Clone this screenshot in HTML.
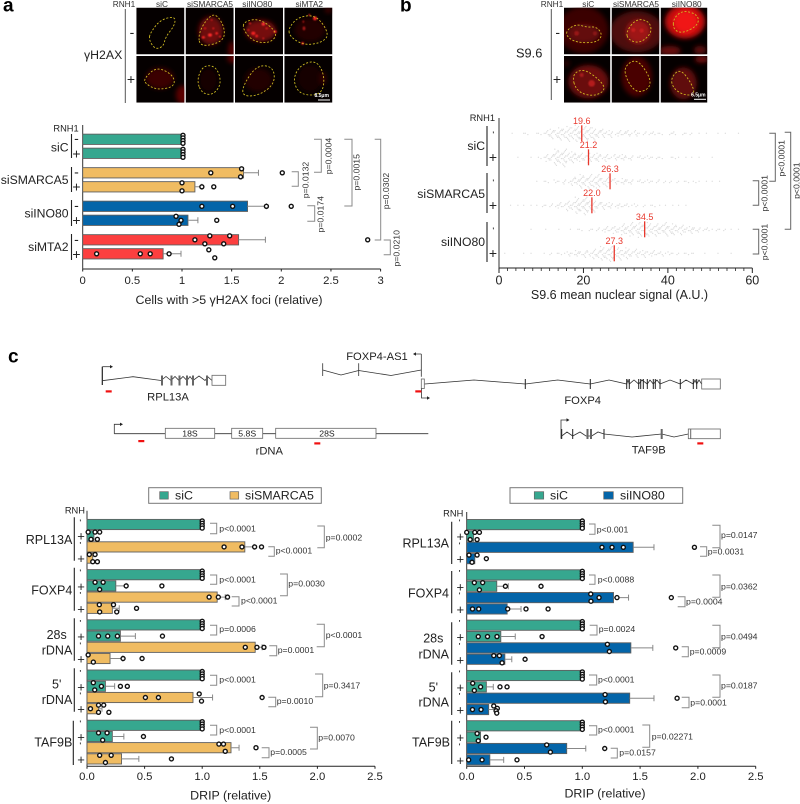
<!DOCTYPE html>
<html lang="en">
<head>
<meta charset="utf-8">
<title>Figure: gamma-H2AX, S9.6 and DRIP</title>
<style>
html,body{margin:0;padding:0;background:#fff}
svg{display:block}
text{font-family:"Liberation Sans",sans-serif;fill:#222;dominant-baseline:central}
.hd{font-size:8.3px;text-anchor:middle;fill:#333}
.pl{font-size:19px;font-weight:bold;fill:#000}
.rl{font-size:12.2px;text-anchor:end}
.rc{font-size:12.5px;text-anchor:middle}
.sg{font-size:14px;text-anchor:middle}
.tk{font-size:7px;font-weight:bold;text-anchor:middle}
.rn{font-size:9.3px;text-anchor:end}
.p{font-size:8.7px;fill:#333}
.pr{font-size:8.7px;fill:#333;text-anchor:middle}
.br{fill:none;stroke:#8a8a8a;stroke-width:1}
.sep{stroke:#222;stroke-width:1.1}
.ax{font-size:12.4px;text-anchor:middle}
.gn{font-size:11.2px;text-anchor:middle}
.ex{font-size:8.7px;text-anchor:middle}
.gl{fill:none;stroke:#333;stroke-width:.8}
.gb{fill:#fff;stroke:#666;stroke-width:.8}
.rm{fill:#f01010}
.lg{font-size:12.4px}
.sb{font-size:5px;font-weight:bold;fill:#fff;text-anchor:middle}
</style>
</head>
<body>
<svg id="fig" xmlns="http://www.w3.org/2000/svg" width="800" height="804" viewBox="0 0 800 804">
<defs>
<filter id="soft" x="-60%" y="-60%" width="220%" height="220%"><feGaussianBlur stdDeviation="7"/></filter>
<filter id="spot" x="-100%" y="-100%" width="300%" height="300%"><feGaussianBlur stdDeviation="2.2"/></filter>
</defs>

<text class="pl" x="3" y="6">a</text>
<text class="pl" x="400" y="6">b</text>
<text class="pl" x="8" y="357">c</text>

<g id="micrographs"></g>

<g>
<text class="hd" x="124" y="4">RNH1</text>
<text class="hd" x="162" y="4">siC</text>
<text class="hd" x="210" y="4">siSMARCA5</text>
<text class="hd" x="257.3" y="4">siINO80</text>
<text class="hd" x="309.3" y="4">siMTA2</text>
<text x="84" y="55" font-size="12.3">γH2AX</text>
<line x1="125.3" y1="9" x2="125.3" y2="103" stroke="#555"/>
<text class="sg" x="132" y="32">-</text>
<text class="sg" x="131" y="79">+</text>
</g>
<g>
<text class="hd" x="552" y="4">RNH1</text>
<text class="hd" x="588.3" y="4">siC</text>
<text class="hd" x="636" y="4">siSMARCA5</text>
<text class="hd" x="686.7" y="4">siINO80</text>
<text x="516" y="53" font-size="12.8">S9.6</text>
<line x1="551.3" y1="9" x2="551.3" y2="100" stroke="#555"/>
<text class="sg" x="557.7" y="32">-</text>
<text class="sg" x="557" y="79">+</text>
</g>

<!-- Panel a labels -->
<g>
<text class="rn" x="78.7" y="128.5">RNH1</text>
<text class="rl" x="68.5" y="147.7">siC</text>
<text class="rl" x="68.5" y="180">siSMARCA5</text>
<text class="rl" x="68.5" y="213.5">siINO80</text>
<text class="rl" x="68.5" y="247">siMTA2</text>
<path class="sep" d="M71.5 134V158M71.5 167V192M71.5 200V226M71.5 234V260"/>
<text class="sg" x="76.5" y="138">-</text>
<text class="sg" x="76.5" y="153.3">+</text>
<text class="sg" x="76.5" y="171.3">-</text>
<text class="sg" x="76.5" y="186.3">+</text>
<text class="sg" x="76.5" y="205">-</text>
<text class="sg" x="76.5" y="220">+</text>
<text class="sg" x="76.5" y="239">-</text>
<text class="sg" x="76.5" y="254">+</text>
<text class="ax" x="229" y="300">Cells with &gt;5 γH2AX foci (relative)</text>
</g>
<g id="chartA"></g>
<g>
<path class="br" d="M314 139.3H321.3V172.3H314"/><text class="pr" transform="translate(328.3,156) rotate(-90)">p=0.0004</text>
<path class="br" d="M344.3 139.3H352V206H344.3"/><text class="pr" transform="translate(356.7,172.3) rotate(-90)">p=0.0015</text>
<path class="br" d="M374.7 139.3H380.7V240H374.7"/><text class="pr" transform="translate(386,191) rotate(-90)">p=0.0302</text>
<path class="br" d="M291.7 171.7H298.3V186.3H291.7"/><text class="pr" transform="translate(305.7,180) rotate(-90)">p=0.0132</text>
<path class="br" d="M307.3 205.7H314.7V221.3H307.3"/><text class="pr" transform="translate(320.7,214.3) rotate(-90)">p=0.0174</text>
<path class="br" d="M383.7 240H390.3V254.7H383.7"/><text class="pr" transform="translate(396.7,248.3) rotate(-90)">p=0.0210</text>
</g>

<!-- Panel b labels -->
<g>
<text class="rn" x="495" y="118">RNH1</text>
<text class="rl" x="485" y="146">siC</text>
<text class="rl" x="485" y="194">siSMARCA5</text>
<text class="rl" x="485" y="242">siINO80</text>
<path class="sep" d="M487 126V166M487 173V213M487 222V262"/>
<text class="tk" x="493.3" y="135">'</text>
<text class="sg" x="493" y="157">+</text>
<text class="tk" x="493.3" y="183">'</text>
<text class="sg" x="493" y="205">+</text>
<text class="tk" x="493.3" y="231">'</text>
<text class="sg" x="493" y="253">+</text>
<text class="ax" x="619.5" y="295" style="font-size:12.5px">S9.6 mean nuclear signal (A.U.)</text>
</g>
<g id="chartB"></g>
<g>
<path class="br" style="stroke:#666" d="M769.3 133.3H775.3V181.3H769.3"/><text class="pr" transform="translate(781.3,158.3) rotate(-90)">p&lt;0.0001</text>
<path class="br" style="stroke:#666" d="M784.7 132.3H790.7V229.3H784.7"/><text class="pr" transform="translate(796.5,180.7) rotate(-90)">p&lt;0.0001</text>
<path class="br" style="stroke:#666" d="M752.7 180.7H758.7V205.3H752.7"/><text class="pr" transform="translate(764.7,193.3) rotate(-90)">p&lt;0.0001</text>
<path class="br" style="stroke:#666" d="M752.7 229.3H758.7V254H752.7"/><text class="pr" transform="translate(764.7,242) rotate(-90)">p&lt;0.0001</text>
</g>

<!-- Gene models -->
<g>
<path class="gl" d="M102.3 366.7H110"/><path d="M110 365L113 366.7L110 368.4Z" fill="#222"/>
<path d="M102.3 366.7V385" fill="none" stroke="#222" stroke-width="1.2"/>
<polyline class="gl" points="102.3,380.7 133,376.7 161,380.5 166,376.5 171,380.5 175,376.5 179,380.5 183,376.5 187,380.5 190,376.5 193,380.5 199,376 205,380.5 208,377 212,380.5"/>
<path d="M162 375.5V385.5M171.5 375.5V385.5M179.5 375.5V385.5M187 375.5V385.5M193 375.5V385.5M207 375.5V385.5" stroke="#666" stroke-width="2" fill="none"/>
<rect class="gb" x="212" y="375.3" width="13.7" height="10"/>
<rect class="rm" x="105.7" y="390.3" width="6" height="2.2"/>
<text class="gn" x="168" y="397.7">RPL13A</text>
</g>
<g>
<text class="gn" x="377" y="357">FOXP4-AS1</text>
<path class="gl" d="M322.7 363.3V376M358.7 363.3V376M421.3 354V376.7M421.3 354H415"/>
<path d="M416 352.3L413 354L416 355.7Z" fill="#222"/>
<polyline class="gl" points="322.7,370 341,375 358.7,370.5 391,375.5 421.3,370"/>
</g>
<g>
<rect class="gb" x="421.3" y="379" width="3" height="9.5"/>
<path class="gl" d="M421.5 388.5V398H428"/><path d="M427 396.3L430 398L427 399.7Z" fill="#222"/>
<rect class="rm" x="415.3" y="390.3" width="6" height="2.2"/>
<polyline class="gl" points="424.7,384 474,380 525.3,384 557.7,380 590.3,384 609,380 626.7,384 628,380 629.3,384 634,380 638.7,384 642,380 647.3,384 650,380 653.3,384 657,380 660,384 670,380 680.3,384 686,380 693.3,384 695,380 696.7,384 699,380 701.7,384"/>
<path d="M525.3 379V389M590.3 379V389M626.7 379V389M629.3 379V389M638.7 379V389M640.7 379V389M643.3 379V389M647.3 379V389M653.3 379V389M655.3 379V389M660 379V389M680.3 379V389M693.3 379V389M696.7 379V389" stroke="#222" stroke-width="1" fill="none"/>
<rect class="gb" x="701.7" y="379" width="18.6" height="10"/>
<text class="gn" x="582.7" y="401">FOXP4</text>
</g>
<g>
<path class="gl" d="M114.3 433.7V424.3H121M114.3 433.7H428.3"/><path d="M120 422.6L123 424.3L120 426Z" fill="#222"/>
<rect class="gb" x="165.3" y="428.3" width="49.4" height="10"/><text class="ex" x="190" y="433.5">18S</text>
<rect class="gb" x="231.7" y="428.3" width="31" height="10"/><text class="ex" x="247.2" y="433.5">5.8S</text>
<rect class="gb" x="275.7" y="428.3" width="100.3" height="10"/><text class="ex" x="327" y="433.5">28S</text>
<rect class="rm" x="138.3" y="440" width="6" height="2.2"/>
<rect class="rm" x="314.3" y="442.3" width="6" height="2.2"/>
<text class="gn" x="269.3" y="451.7">rDNA</text>
</g>
<g>
<path class="gl" d="M561 438.7V420H567.5"/><path d="M566.5 418.3L569.5 420L566.5 421.7Z" fill="#222"/>
<polyline class="gl" points="561.7,436 567,432 572.7,436 580,432 586,436 591.7,436 598,432 604,434 632,437 661.7,434 674,437 688.3,434"/>
<path d="M561.7 429V439M572.7 429V439M604 429V439" stroke="#222" fill="none"/>
<path d="M587.5 429V439M591 429V439M661.7 429V439" stroke="#666" stroke-width="2" fill="none"/>
<rect class="gb" x="688.3" y="429" width="32" height="9.7"/>
<path d="M690.7 429V438.7" stroke="#666"/>
<rect class="rm" x="697.3" y="442.3" width="6" height="2.2"/>
<text class="gn" x="648.7" y="450.7">TAF9B</text>
</g>

<!-- Legends -->
<g>
<rect x="148.7" y="487.7" width="172.6" height="15.6" fill="#fff" stroke="#777"/>
<rect x="159.7" y="491.7" width="8.6" height="7.4" fill="#36A78F" stroke="#666" stroke-width=".7"/>
<text class="lg" x="175" y="495.7">siC</text>
<rect x="230" y="491.7" width="8.7" height="7.4" fill="#F0BC62" stroke="#666" stroke-width=".7"/>
<text class="lg" x="245" y="495.7">siSMARCA5</text>
</g>
<g>
<rect x="510" y="487.7" width="172.7" height="15.6" fill="#fff" stroke="#777"/>
<rect x="534.3" y="491.7" width="9.4" height="7.4" fill="#36A78F" stroke="#666" stroke-width=".7"/>
<text class="lg" x="550" y="495.7">siC</text>
<rect x="603.7" y="491.7" width="9.6" height="7.4" fill="#0465A9" stroke="#666" stroke-width=".7"/>
<text class="lg" x="620" y="495.7">siINO80</text>
</g>

<!-- Panel c left labels -->
<g>
<text class="rn" x="85" y="510.3">RNH</text>
<text class="rl" x="72.3" y="540" style="font-size:12.5px">RPL13A</text>
<text class="rl" x="72.3" y="590.7" style="font-size:12.5px">FOXP4</text>
<text class="rc" x="56.7" y="635">28s</text>
<text class="rl" x="72.3" y="650.7" style="font-size:12.5px">rDNA</text>
<text class="rc" x="56.7" y="684.3">5'</text>
<text class="rl" x="72.3" y="700" style="font-size:12.5px">rDNA</text>
<text class="rl" x="72.3" y="742.7" style="font-size:12.5px">TAF9B</text>
<path class="sep" d="M74.3 517.3V560.7M74.3 567.7V610.7M74.3 618.3V660.7M74.3 668.3V711.7M73.3 720.7V765"/>
<g id="signsLeft"></g>
<text class="ax" x="230.7" y="795.7">DRIP (relative)</text>
</g>
<g id="chartL"></g>
<g>
<path class="br" d="M210 523.3H216.7V533.7H210"/><text class="p" x="219.3" y="528.3">p&lt;0.0001</text>
<path class="br" d="M268.3 546.7H274.3V556.3H268.3"/><text class="p" x="275.7" y="550.7">p&lt;0.0001</text>
<path class="br" d="M317.3 526H324.3V547.7H317.3"/><text class="p" x="325.7" y="537.3">p=0.0002</text>
<path class="br" d="M210 575H216.7V584.3H210"/><text class="p" x="219.3" y="579.3">p&lt;0.0001</text>
<path class="br" d="M231.7 596.7H239V606H231.7"/><text class="p" x="241" y="600.7">p&lt;0.0001</text>
<path class="br" d="M280 574H287.3V595.7H280"/><text class="p" x="288.3" y="583.3">p=0.0030</text>
<path class="br" d="M210 625.3H216.7V635H210"/><text class="p" x="219.3" y="629">p=0.0006</text>
<path class="br" d="M269.3 645.7H276.7V655.7H269.3"/><text class="p" x="277.7" y="650">p=0.0001</text>
<path class="br" d="M316.7 624.3H324.3V646.7H316.7"/><text class="p" x="325.7" y="635">p&lt;0.0001</text>
<path class="br" d="M210 675.3H216.7V685.3H210"/><text class="p" x="219.3" y="679.3">p&lt;0.0001</text>
<path class="br" d="M268.3 697.3H275.7V706.7H268.3"/><text class="p" x="276.7" y="701">p=0.0010</text>
<path class="br" d="M315 674H322.7V696.7H315"/><text class="p" x="323.7" y="685.3">p=0.3417</text>
<path class="br" d="M210 725.3H216.7V735H210"/><text class="p" x="219.3" y="730">p&lt;0.0001</text>
<path class="br" d="M261.7 747.7H269V757.7H261.7"/><text class="p" x="270.3" y="752">p=0.0005</text>
<path class="br" d="M310 727.3H317.3V749H310"/><text class="p" x="318.3" y="737.7">p=0.0070</text>
</g>

<!-- Panel c right labels -->
<g>
<text class="rn" x="463.3" y="513.3">RNH</text>
<text class="rl" x="449" y="543.3" style="font-size:12.5px">RPL13A</text>
<text class="rl" x="449" y="593.3" style="font-size:12.5px">FOXP4</text>
<text class="rc" x="433.3" y="638.3">28s</text>
<text class="rl" x="449" y="654.3" style="font-size:12.5px">rDNA</text>
<text class="rc" x="433.3" y="687.3">5'</text>
<text class="rl" x="449" y="702.3" style="font-size:12.5px">rDNA</text>
<text class="rl" x="450" y="742.3" style="font-size:12.5px">TAF9B</text>
<path class="sep" d="M451.7 521.7V564M451.7 571V613.3M451.7 622.3V664.7M451.7 672.3V715M451.7 720.7V764"/>
<g id="signsRight"></g>
<text class="ax" x="605" y="793.3">DRIP (relative)</text>
</g>
<g id="chartR"></g>
<g>
<path class="br" d="M589 524H595V534.3H589"/><text class="p" x="596.7" y="529.3">p&lt;0.001</text>
<path class="br" d="M700 546.7H706.7V556.3H700"/><text class="p" x="707.7" y="551.7">p=0.0031</text>
<path class="br" d="M712.3 525.3H720V547.7H712.3"/><text class="p" x="721" y="535">p=0.0147</text>
<path class="br" d="M589 575H595V584.3H589"/><text class="p" x="597.7" y="579.3">p&lt;0.0088</text>
<path class="br" d="M677.7 596.7H685V606.7H677.7"/><text class="p" x="686" y="601.7">p=0.0004</text>
<path class="br" d="M712.3 575H720V597.3H712.3"/><text class="p" x="721" y="586.3">p=0.0362</text>
<path class="br" d="M589.7 625.3H597V635H589.7"/><text class="p" x="598.7" y="629">p=0.0024</text>
<path class="br" d="M681.7 646.7H688.3V656.7H681.7"/><text class="p" x="689.7" y="651.7">p=0.0009</text>
<path class="br" d="M712.3 625.3H720V647.7H712.3"/><text class="p" x="721" y="636.7">p=0.0494</text>
<path class="br" d="M589 675H596.7V685H589"/><text class="p" x="598" y="679.3">p&lt;0.0001</text>
<path class="br" d="M681.7 697.3H689V707.7H681.7"/><text class="p" x="690.3" y="702.3">p=0.0001</text>
<path class="br" d="M712.3 675H720V697.3H712.3"/><text class="p" x="721" y="685.7">p=0.0187</text>
<path class="br" d="M589 725.7H596.7V735H589"/><text class="p" x="598" y="729.3">p&lt;0.0001</text>
<path class="br" d="M610.7 748.3H617.3V758H610.7"/><text class="p" x="619.3" y="752.7">p=0.0157</text>
<path class="br" d="M642.3 725H649.7V747.3H642.3"/><text class="p" x="651.7" y="736.7">p=0.02271</text>
</g>
</svg>

<script>
/* ---------- Panel a data ---------- */
const aTickValues = [0, 0.5, 1, 1.5, 2, 2.5, 3];
const aTickLabels = ['0', '0.5', '1', '1.5', '2', '2.5', '3'];
const aRowNames = ['siC-minus', 'siC-plus', 'siSMARCA5-minus', 'siSMARCA5-plus', 'siINO80-minus', 'siINO80-plus', 'siMTA2-minus', 'siMTA2-plus'];
const aBarValues = [1, 1, 1.62, 1.13, 1.66, 1.06, 1.57, 0.81];
const aErrorTops = [null, null, 1.77, 1.2, 1.85, 1.16, 1.84, 0.99];
const aPoints = [
  [1.01, 1.01, 1.01, 1.01],
  [1.01, 1.01, 1.01, 1.01],
  [1.6, 1.29, 1.59, 2.01],
  [1.0, 1.0, 1.2, 1.32],
  [1.2, 1.51, 1.85, 2.1],
  [0.94, 0.99, 0.97, 1.35],
  [1.28, 1.48, 1.13, 1.23, 1.42, 2.87],
  [0.14, 0.58, 0.68, 0.87, 1.27, 1.33]
];

/* ---------- Panel b data ---------- */
const bTickValues = [0, 20, 40, 60];
const bTickLabels = ['0', '20', '40', '60'];
const bMinorTicks = [2, 4, 6, 8, 10, 12, 14, 16, 18, 22, 24, 26, 28, 30, 32, 34, 36, 38, 42, 44, 46, 48, 50, 52, 54, 56, 58];
const bRowNames = ['siC-minus', 'siC-plus', 'siSMARCA5-minus', 'siSMARCA5-plus', 'siINO80-minus', 'siINO80-plus'];
const bMeans = [19.6, 21.2, 26.3, 22.0, 34.5, 27.3];
const bMeanLabels = ['19.6', '21.2', '26.3', '22.0', '34.5', '27.3'];
/* dots per one-unit signal bin */
const bSwarmCounts = [
  [0,0,0,1,0,1,2,0,1,2,1,5,8,6,10,7,12,9,13,8,11,9,10,6,7,3,6,2,5,3,5,2,5,1,3,2,3,1,2,0,2,3,0,2,1,2,0,1,0,1,0,1,0,1,0,0,1,0,0,0],
  [0,0,0,0,1,0,0,1,0,2,1,6,5,13,9,14,7,9,5,7,4,8,5,7,3,6,2,5,3,5,2,4,1,3,2,3,1,2,2,0,1,2,1,0,1,1,0,1,0,0,1,0,0,0,0,0,0,0,0,0],
  [0,0,0,0,0,0,0,0,1,0,1,2,0,3,1,4,2,7,5,11,7,12,8,11,5,8,3,5,2,5,3,4,1,3,2,3,1,3,0,2,2,0,2,1,2,0,2,1,0,1,1,0,1,0,0,0,0,0,0,0],
  [0,0,1,0,1,1,0,1,1,0,2,1,3,2,5,3,8,6,13,9,14,8,10,5,6,3,5,2,4,2,3,1,3,0,2,1,2,0,1,1,0,1,1,0,1,0,0,0,0,0,0,0,0,0,0,0,0,0,0,0],
  [0,0,0,0,0,0,0,1,0,0,0,1,0,0,1,0,1,0,1,2,0,2,1,3,2,5,3,6,4,9,6,11,7,12,8,11,6,10,7,11,6,9,5,8,4,6,3,4,2,3,1,2,1,2,1,0,1,0,0,0],
  [0,1,0,0,0,1,0,1,0,0,1,0,2,1,2,1,4,2,5,3,6,4,8,6,11,8,12,6,10,5,9,4,7,3,6,3,5,2,4,1,3,1,2,1,2,1,1,0,1,0,0,1,0,0,1,0,0,0,0,0]
];

/* ---------- Panel c data ---------- */
const cTickValues = [0, 0.5, 1, 1.5, 2, 2.5];
const cTickLabels = ['0.0', '0.5', '1.0', '1.5', '2.0', '2.5'];
const cGroups = ['RPL13A', 'FOXP4', '28s-rDNA', '5prime-rDNA', 'TAF9B'];
const cConditions = ['siC-minus', 'siC-plus', 'knockdown-minus', 'knockdown-plus'];
const leftBarValues = [1,0.06,1.37,0.05, 1,0.25,1.13,0.22, 1,0.29,1.46,0.2, 1,0.16,0.92,0.1, 1,0.22,1.25,0.3];
const leftErrorTops = [null,null,1.45,null, null,0.34,1.2,0.28, null,0.42,1.52,0.31, null,0.24,1.09,0.13, null,0.32,1.32,0.45];
const leftPoints = [
  [1,1,1,1],[0.01,0.035,0.07,0.09,0.11],[1.19,1.345,1.455,1.515],[0.02,0.05,0.07,0.09],
  [1,1,1,1],[0.07,0.11,0.14,0.34,0.65],[1.06,1.14,1.22],[0.107,0.11,0.23,0.258,0.43],
  [1,1,1,1],[0.1,0.18,0.264,0.655],[1.374,1.475,1.536],[0.01,0.055,0.313,0.478],
  [1,1,1,1],[0.055,0.067,0.125,0.29,0.35],[0.507,0.62,0.974,0.994,1.52],[0.03,0.1,0.1,0.145,0.19],
  [1,1,1,1],[0.1,0.136,0.174,0.49],[1.145,1.2,1.185,1.467],[0.11,0.16,0.21,0.733]
];
const rightBarValues = [1,0.06,1.44,0.07, 1,0.26,1.27,0.35, 1,0.295,1.42,0.33, 1,0.17,1.41,0.19, 1,0.12,0.865,0.2];
const rightErrorTops = [null,null,1.62,null, null,0.36,1.4,0.47, null,0.42,1.61,0.39, null,0.23,1.62,0.26, null,null,1.03,0.32];
const rightPoints = [
  [1,1,1,1],[0,0.03,0.07,0.09,0.11],[1.17,1.257,1.355,1.97],[0.02,0.046,0.09,0.17],
  [1,1,1,1],[0.066,0.11,0.138,0.335,0.643],[1.073,1.075,1.145,1.3,1.77],[0.05,0.104,0.355,0.513,0.704],
  [1,1,1,1],[0.1,0.18,0.262,0.652],[1.217,1.234,1.808],[0.234,0.306,0.283,0.505],
  [1,1,1,1],[0.052,0.066,0.12,0.288,0.349],[1.197,1.2,1.82],[0.05,0.124,0.234,0.265,0.254,0.26],
  [1,1,1,1],[0.09,0.1,0.167],[0.692,0.724,1.194],[0.017,0.133,0.435]
];

/* ---------- Helpers ---------- */
const NS = 'http://www.w3.org/2000/svg';
function mk(tag, attrs, parent) {
  const e = document.createElementNS(NS, tag);
  for (const k in attrs) e.setAttribute(k, attrs[k]);
  parent.appendChild(e);
  return e;
}
function dotOffsets(vals, px, thr, s) {
  const order = vals.map(function (v, i) { return i; }).sort(function (a, b) { return vals[a] - vals[b]; });
  const out = vals.map(function () { return 0; });
  let group = [];
  function flush() {
    const n = group.length;
    if (n > 1) {
      const g = group.slice().sort(function (a, b) { return a - b; });
      const gv = g.map(function (i) { return vals[i]; });
      const range = px(Math.max.apply(null, gv)) - px(Math.min.apply(null, gv));
      g.forEach(function (idx, i) {
        if (range < thr) out[idx] = -s + i * (2 * s / (n - 1));
        else out[idx] = i % 2 ? s : -s;
      });
    }
    group = [];
  }
  order.forEach(function (idx, pos) {
    if (pos && px(vals[idx]) - px(vals[order[pos - 1]]) >= thr) flush();
    group.push(idx);
  });
  flush();
  return out;
}
function drawAxis(g, x, tickVals, tickLabels, axisY, topY, labelY, tickLen, fontSize) {
  const h = mk('line', {x1: x(tickVals[0]), x2: x(tickVals[tickVals.length - 1]), y1: axisY, y2: axisY, stroke: '#222', 'stroke-width': 1}, g);
  
  
  const v = mk('line', {x1: x(tickVals[0]), x2: x(tickVals[0]), y1: topY, y2: axisY, stroke: '#333', 'stroke-width': 1}, g);
  
  
  tickVals.forEach(function (t, i) {
    const tk = mk('line', {x1: x(t), x2: x(t), y1: axisY, y2: axisY + tickLen, stroke: '#222', 'stroke-width': 1}, g);
    
    
    const lb = mk('text', {x: x(t), y: labelY, 'text-anchor': 'middle', 'font-size': fontSize}, g);
    lb.textContent = tickLabels[i];
    
    
  });
}
function drawBars(g, o) {
  o.values.forEach(function (val, i) {
    const yc = o.y(i), name = o.names(i);
    const bar = mk('rect', {x: o.x(0), y: yc - o.bh / 2, width: o.x(val) - o.x(0), height: o.bh, fill: o.color(i), stroke: '#5f5f5f', 'stroke-width': 0.9}, g);
    
    
    if (o.errors[i] !== null) {
      const w = mk('path', {d: 'M' + o.x(val) + ' ' + yc + 'H' + o.x(o.errors[i]) + 'M' + o.x(o.errors[i]) + ' ' + (yc - 3) + 'V' + (yc + 3), fill: 'none', stroke: '#888', 'stroke-width': 1}, g);
      
      
    }
  });
  o.values.forEach(function (val, i) {
    const yc = o.y(i), name = o.names(i);
    const offs = dotOffsets(o.points[i], o.x, o.thr, o.s);
    o.points[i].forEach(function (p, k) {
      const c = mk('circle', {cx: o.x(p), cy: yc + offs[k], r: 2, fill: '#fff', stroke: '#111', 'stroke-width': 1.4}, g);
      
      
    });
  });
}

/* ---------- Panel a ---------- */
const xA = function (v) { return 82.7 + v * 99.3; };
const yA = function (i) { return 139.3 + Math.floor(i / 2) * 33.5 + (i % 2) * 14; };
const aColors = ['#36A78F', '#F0BC62', '#0465A9', '#FC3F3F'];
const chartA = document.getElementById('chartA');
drawAxis(chartA, xA, aTickValues, aTickLabels, 269, 125, 281, 2.5, '11.3');
drawBars(chartA, {values: aBarValues, errors: aErrorTops, points: aPoints, x: xA, y: yA, bh: 10.3, thr: 7.5, s: 4,
  color: function (i) { return aColors[Math.floor(i / 2)]; },
  names: function (i) { return aRowNames[i]; }});

/* ---------- Panel b ---------- */
const xB = function (v) { return 499 + v * 4.222; };
const yB = function (i) { return 133.3 + i * 24; };
const chartB = document.getElementById('chartB');
drawAxis(chartB, xB, bTickValues, bTickLabels, 268, 118, 280.5, 5, '12.5');
bMinorTicks.forEach(function (t) {
  const m = mk('line', {x1: xB(t), x2: xB(t), y1: 268, y2: 271, stroke: '#222', 'stroke-width': 0.8}, chartB);
  
  
});
bSwarmCounts.forEach(function (counts, r) {
  const rowG = mk('g', {fill: '#dcdcdc'}, chartB);
  
  
  counts.forEach(function (n, bin) {
    for (let k = 0; k < n; k++) {
      const lane = (k % 2 ? 1 : -1) * Math.ceil(k / 2);
      const d = mk('circle', {cx: xB(bin + ((k * 0.618 + bin * 0.37) % 1)), cy: yB(r) + lane * 1.35, r: 0.65}, rowG);
      
      
    }
  });
});
bMeans.forEach(function (m, r) {
  const ln = mk('line', {x1: xB(m), x2: xB(m), y1: yB(r) - 8, y2: yB(r) + 8, stroke: '#e8382d', 'stroke-width': 1.3}, chartB);
  
  
  const t = mk('text', {x: xB(m), y: yB(r) - 12.5, 'text-anchor': 'middle', 'font-size': '9', style: 'fill:#e8382d'}, chartB);
  t.textContent = bMeanLabels[r];
  
  
});

/* ---------- Panel c ---------- */
function drawDrip(id, signsId, x0, unit, topY, rowStart, groupStep, rowStep, kd, values, errors, points, sx) {
  const x = function (v) { return x0 + v * unit; };
  const y = function (i) { return rowStart + Math.floor(i / 4) * groupStep + (i % 4) * rowStep; };
  const g = document.getElementById(id);
  drawAxis(g, x, cTickValues, cTickLabels, 766.3, topY, 777, 2.5, '11.3');
  drawBars(g, {values: values, errors: errors, points: points, x: x, y: y, bh: 10.2, thr: 6, s: 3.6,
    color: function (i) { return i % 4 < 2 ? '#36A78F' : kd; },
    names: function (i) { return cGroups[Math.floor(i / 4)] + '-' + cConditions[i % 4]; }});
  const sg = document.getElementById(signsId);
  values.forEach(function (v, i) {
    const minus = i % 2 === 0;
    const t = mk('text', {x: sx + (minus ? 0 : 0.7), y: y(i) + (minus ? -1.5 : 0.5), 'text-anchor': 'middle', 'font-size': minus ? '7' : '13', 'font-weight': minus ? 'bold' : 'normal'}, sg);
    t.textContent = minus ? "'" : '+';
    
    
  });
}
drawDrip('chartL', 'signsLeft', 87, 115.2, 510.7, 524.5, 50.2, 11.2, '#F0BC62', leftBarValues, leftErrorTops, leftPoints, 80.3);
drawDrip('chartR', 'signsRight', 466.7, 115.6, 512, 524.6, 50.3, 11.35, '#0465A9', rightBarValues, rightErrorTops, rightPoints, 459.6);
</script>

<script>
/* Micrograph illustrations, drawn in 3x pixel space */
(function () {
  const root = document.getElementById('micrographs');
  const host = mk('g', {transform: 'scale(0.33333)'}, root);
  const D = 1260;
  const cells = [
    {n:'a-sic-minus',x:409,y:23,w:144,h:140,soft:[],spot:[],o:[450,100,480,60,525,48,525,75,497,110,490,140,465,148,447,120]},
    {n:'a-sismarca5-minus',x:557,y:23,w:144,h:140,soft:[[632,92,36,42,'#6e0808'],[695,150,10,25,'#5a0505']],
     spot:[[630,105,6,5,'#ff2a2a'],[610,112,5,4,'#f02020'],[650,100,4,4,'#f02020'],[640,85,3,3,'#e01c1c'],[615,85,4,3,'#d01818'],[660,110,3,3,'#f02020'],[635,60,3,3,'#c81818']],
     o:[595,100,625,50,650,42,675,85,670,125,600,142]},
    {n:'a-siino80-minus',x:705,y:23,w:144,h:140,soft:[[782,92,46,32,'#740808']],
     spot:[[790,72,5,5,'#ff3030'],[760,100,6,5,'#f42424'],[770,108,4,4,'#f02020'],[825,95,5,4,'#f42424'],[750,70,4,3,'#e01c1c'],[800,85,4,3,'#d81a1a'],[745,90,3,3,'#d81a1a'],[790,115,3,3,'#d81a1a']],
     o:[730,65,780,55,835,100,810,130,760,125,730,90]},
    {n:'a-simta2-minus',x:853,y:23,w:144,h:140,soft:[[930,90,46,36,'#200202'],[985,30,10,8,'#4a0505']],
     spot:[[945,55,6,6,'#ee2020'],[912,85,4,6,'#a81212'],[908,130,4,4,'#ff2424'],[928,45,3,3,'#e01c1c'],[910,65,3,4,'#981010']],
     o:[865,85,895,50,950,45,990,105,960,130,910,135,870,110]},
    {n:'a-sic-plus',x:409,y:168,w:144,h:140,soft:[[480,235,42,32,'#3a0404'],[548,285,20,28,'#5a0606']],spot:[],o:[433,235,470,200,520,225,525,260,470,270,435,250]},
    {n:'a-sismarca5-plus',x:557,y:168,w:144,h:140,soft:[[625,240,28,36,'#130101'],[700,175,18,14,'#5a0606']],spot:[],o:[590,240,610,195,650,200,665,250,640,285,605,280]},
    {n:'a-siino80-plus',x:705,y:168,w:144,h:140,soft:[[775,240,42,36,'#200202']],spot:[],o:[727,260,770,195,820,200,825,250,780,285,730,290]},
    {n:'a-simta2-plus',x:853,y:168,w:144,h:140,soft:[[930,235,38,42,'#120101'],[968,235,10,20,'#300404']],spot:[],o:[878,240,900,195,950,180,975,230,965,285,900,285]},
    {n:'b-sic-minus',x:D+432,y:23,w:139,h:140,soft:[[D+490,90,75,70,'#3a0505'],[D+490,100,48,28,'#640e0e']],
     spot:[[D+470,100,7,7,'#9a1818'],[D+525,100,6,6,'#8c1414']],o:[D+440,90,D+470,72,D+500,82,D+530,80,D+548,105,D+530,128,D+470,128,D+440,110]},
    {n:'b-sismarca5-minus',x:D+575,y:23,w:143,h:140,soft:[[D+650,95,80,62,'#4e0808'],[D+655,95,36,36,'#9e1212']],
     spot:[[D+640,90,6,6,'#c41e1e'],[D+665,92,6,6,'#c41e1e']],o:[D+618,95,D+650,55,D+690,65,D+695,100,D+660,130,D+625,120]},
    {n:'b-siino80-minus',x:D+722,y:23,w:140,h:140,soft:[[D+795,65,60,50,'#c41010'],[D+797,65,36,34,'#f01818'],[D+750,152,32,14,'#681010'],[D+840,150,18,12,'#601010']],spot:[],
     o:[D+760,55,D+790,30,D+835,45,D+835,75,D+790,100,D+760,90]},
    {n:'b-sic-plus',x:D+432,y:168,w:139,h:140,soft:[[D+505,245,60,50,'#6a0a0a'],[D+440,190,10,10,'#2a0404']],
     spot:[[D+515,250,10,10,'#b41c1c'],[D+485,225,6,6,'#a41a1a']],o:[D+455,225,D+490,205,D+540,240,D+558,270,D+520,290,D+470,275]},
    {n:'b-sismarca5-plus',x:D+575,y:168,w:143,h:140,soft:[[D+650,230,46,60,'#4a0606']],spot:[],o:[D+612,200,D+650,175,D+690,230,D+690,265,D+650,280,D+620,240]},
    {n:'b-siino80-plus',x:D+722,y:168,w:140,h:140,soft:[[D+790,250,40,48,'#600808'],[D+845,178,20,10,'#741010']],spot:[],o:[D+752,235,D+780,205,D+815,250,D+825,285,D+790,285,D+760,265]}
  ];
  function smooth(p) {
    const pts = [];
    for (let i = 0; i < p.length; i += 2) pts.push([p[i], p[i + 1]]);
    const n = pts.length;
    const mid = function (a, b) { return [(a[0] + b[0]) / 2, (a[1] + b[1]) / 2]; };
    const s = mid(pts[n - 1], pts[0]);
    let d = 'M' + s[0] + ' ' + s[1];
    for (let i = 0; i < n; i++) {
      const m = mid(pts[i], pts[(i + 1) % n]);
      d += 'Q' + pts[i][0] + ' ' + pts[i][1] + ' ' + m[0] + ' ' + m[1];
    }
    return d + 'Z';
  }
  const defs = document.querySelector('defs');
  cells.forEach(function (c, i) {
    const cp = mk('clipPath', {id: 'cp' + i}, defs);
    mk('rect', {x: c.x, y: c.y, width: c.w, height: c.h}, cp);
    const g = mk('g', {'clip-path': 'url(#cp' + i + ')'}, host);
    
    
    mk('rect', {x: c.x, y: c.y, width: c.w, height: c.h, fill: '#050000'}, g);
    c.soft.forEach(function (b) { mk('ellipse', {cx: b[0], cy: b[1], rx: b[2], ry: b[3], fill: b[4], filter: 'url(#soft)'}, g); });
    c.spot.forEach(function (b) { mk('ellipse', {cx: b[0], cy: b[1], rx: b[2], ry: b[3], fill: b[4], filter: 'url(#spot)'}, g); });
    mk('path', {d: smooth(c.o), fill: 'none', stroke: '#d2bd22', 'stroke-width': 2.6, 'stroke-dasharray': '6 5'}, g);
  });
  const sbA = mk('line', {x1: 318, x2: 330, y1: 100, y2: 100, stroke: '#fff', 'stroke-width': 1}, root);
  
  
  const sbB = mk('line', {x1: 694, x2: 706, y1: 99.3, y2: 99.3, stroke: '#fff', 'stroke-width': 1}, root);
  
  
  const tA = mk('text', {class: 'sb', x: 321.7, y: 96}, root);
  tA.textContent = '8.5μm';
  
  
  const tB = mk('text', {class: 'sb', x: 698.3, y: 95.5}, root);
  tB.textContent = '6.5μm';
  
  
})();
</script>
</body>
</html>
